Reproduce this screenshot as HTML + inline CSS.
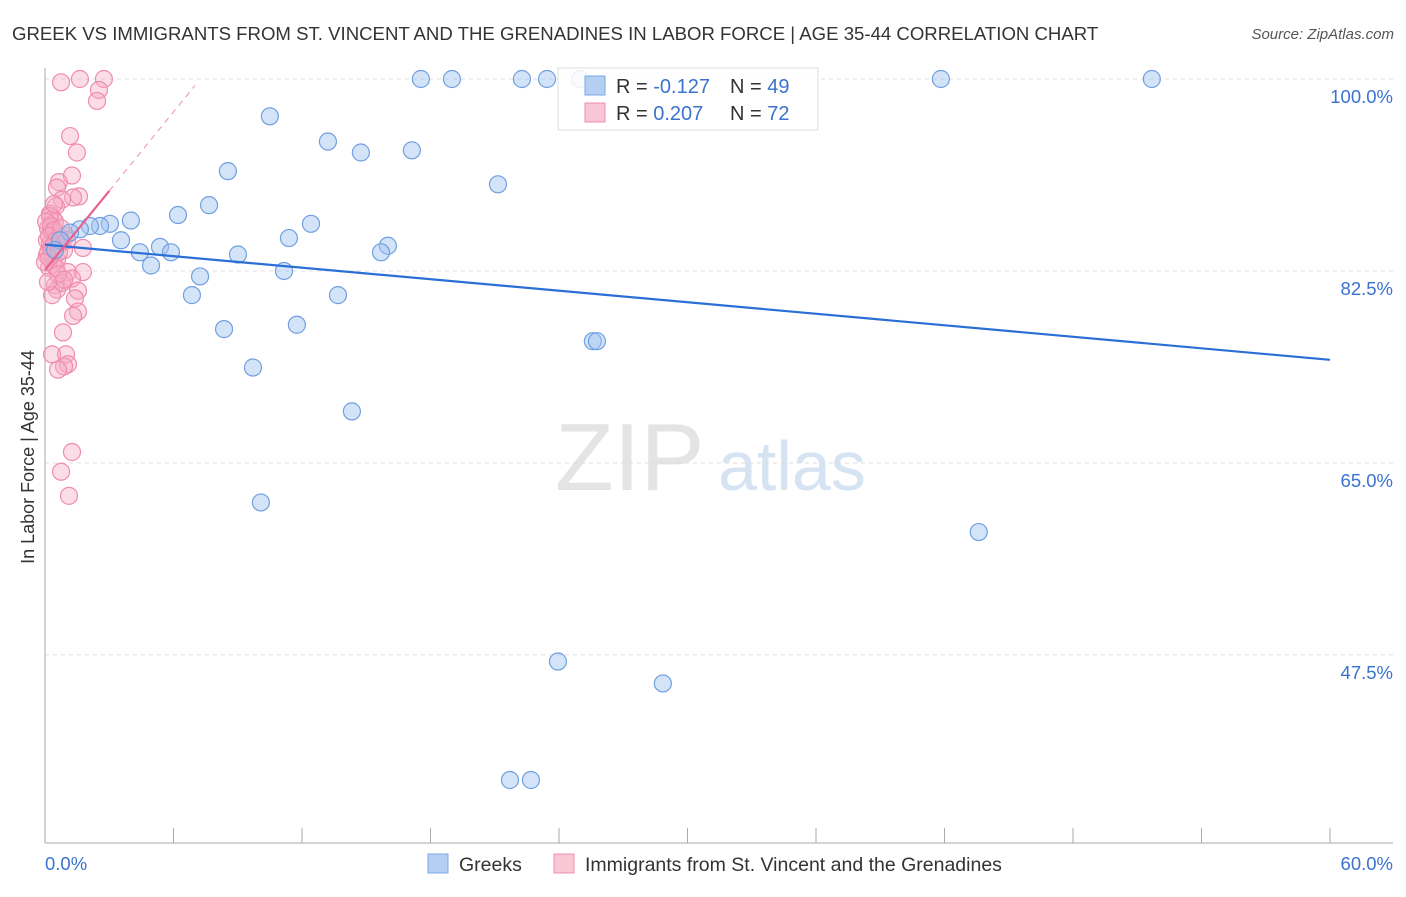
<!DOCTYPE html>
<html><head><meta charset="utf-8"><style>
body{margin:0;background:#fff;font-family:"Liberation Sans",sans-serif;}
svg text{font-family:"Liberation Sans",sans-serif;}
</style></head><body>
<svg id="c" width="1406" height="892">
<text x="12" y="40" font-size="18.6" fill="#333">GREEK VS IMMIGRANTS FROM ST. VINCENT AND THE GRENADINES IN LABOR FORCE | AGE 35-44 CORRELATION CHART</text>
<text x="1394" y="39" font-size="15" fill="#555" text-anchor="end" font-style="italic">Source: ZipAtlas.com</text>
<text x="555" y="490" font-size="96" fill="#e4e4e4" font-family="Liberation Serif">ZIP</text>
<text x="718" y="490" font-size="70" fill="#d6e3f3">atlas</text>
<text transform="translate(34,457) rotate(-90)" font-size="18" fill="#333" text-anchor="middle">In Labor Force | Age 35-44</text>
<g id="grid"></g><g id="axes"></g><g id="pts"></g><g id="trend"></g>
<g>
<rect x="558" y="68" width="260" height="62" fill="rgba(255,255,255,0.85)" stroke="#ddd"/>
<rect x="585" y="76" width="20" height="19" fill="#b5cff3" stroke="#7aaae6"/>
<rect x="585" y="103" width="20" height="19" fill="#f9c6d6" stroke="#f08cad"/>
<text x="616" y="93" font-size="20" fill="#333">R = <tspan fill="#3a73cf">-0.127</tspan></text>
<text x="730" y="93" font-size="20" fill="#333">N = <tspan fill="#3a73cf">49</tspan></text>
<text x="616" y="120" font-size="20" fill="#333">R = <tspan fill="#3a73cf"> 0.207</tspan></text>
<text x="730" y="120" font-size="20" fill="#333">N = <tspan fill="#3a73cf">72</tspan></text>
</g>
<g>
<rect x="428" y="854" width="20" height="19" fill="#b5cff3" stroke="#7aaae6"/>
<text x="459" y="871" font-size="19.5" fill="#333">Greeks</text>
<rect x="554" y="854" width="20" height="19" fill="#f9c6d6" stroke="#f08cad"/>
<text x="585" y="871" font-size="19.5" fill="#333">Immigrants from St. Vincent and the Grenadines</text>
</g>
</svg>
<script>
const yTicks=[100,82.5,65,47.5];
const yTickLabels=["100.0%","82.5%","65.0%","47.5%"];
const xEndLabels=["0.0%","60.0%"];
const blueX=[17.55,19.0,22.27,23.44,24.98,41.83,51.68,10.5,13.21,14.75,17.13,8.54,21.15,7.66,6.21,4.01,3.03,2.57,2.1,1.63,1.17,3.55,5.37,4.43,5.88,9.01,11.39,12.42,16.01,15.69,4.95,7.24,11.16,6.86,13.68,11.76,8.36,25.58,25.77,9.71,14.33,10.08,43.6,23.95,28.85,21.71,22.69,0.7,0.47];
const blueY=[100,100,100,100,100,100,100,96.6,94.3,93.3,93.5,91.6,90.4,88.5,87.6,87.1,86.8,86.6,86.6,86.3,86.0,85.3,84.7,84.2,84.2,84.0,85.5,86.8,84.8,84.2,83.0,82.0,82.5,80.3,80.3,77.6,77.2,76.1,76.1,73.7,69.7,61.4,58.7,46.9,44.9,36.1,36.1,85.3,84.4];
const pinkX=[0.75,1.63,2.75,2.52,2.43,1.17,1.49,0.65,1.26,0.56,1.59,1.31,0.79,0.51,0.23,0.37,0.47,0.14,0.33,0.61,0.09,0.23,0.47,0.70,0.14,0.33,0.56,0.79,0.98,0.89,0.37,0.19,0.51,1.07,1.77,1.77,1.26,0.79,0.47,0.56,0.33,1.54,1.40,1.54,1.31,0.84,0.98,0.33,1.07,0.89,0.61,1.26,0.75,1.12,0.23,0.05,0.28,0.42,0.19,0.51,0.28,0.09,0.37,0.65,0.75,0.19,0.0,0.61,0.89,0.14,1.03,0.42];
const pinkY=[99.7,100,100,99.0,98.0,94.8,93.3,90.6,91.2,90.1,89.3,89.2,89.0,88.4,87.7,87.3,87.0,86.4,86.1,85.7,85.3,85.0,84.6,85.0,84.2,83.9,83.5,85.3,85.7,84.4,83.1,82.8,82.8,82.4,84.6,82.4,81.8,81.4,81.2,80.8,80.3,80.7,80.0,78.8,78.4,76.9,74.9,74.9,74.0,73.8,73.5,66.0,64.2,62.0,87.5,87.0,86.6,86.2,85.7,85.3,84.6,83.9,84.8,84.2,86.4,83.7,83.3,82.2,81.7,81.5,85.3,88.6];
const blueTrend=[84.9,74.4];
const pinkTrend=[82.6,2.4];
const NS="http://www.w3.org/2000/svg";
const X0=45,X1=1330,Y100=79,PXY=10.97;
const sx=v=>X0+(X1-X0)*v/60, sy=v=>Y100+(100-v)*PXY;
function mk(t,a,p){const e=document.createElementNS(NS,t);for(const k in a)e.setAttribute(k,a[k]);p.appendChild(e);return e;}
const grid=document.getElementById('grid'),axes=document.getElementById('axes'),pts=document.getElementById('pts'),tr=document.getElementById('trend');
yTicks.forEach((v,i)=>{
 const l=mk('line',{x1:X0,x2:1393,y1:sy(v),y2:sy(v),stroke:'#ddd','stroke-dasharray':'4,4'},grid);
 
 
 const t=mk('text',{x:1393,y:sy(v)+24,'font-size':18.5,fill:'#3a73cf','text-anchor':'end'},grid);
 t.textContent=yTickLabels[i];
 
 
});
const ax=mk('line',{x1:X0,x2:1393,y1:843,y2:843,stroke:'#aaa'},axes);


const ay=mk('line',{x1:X0,x2:X0,y1:68,y2:843,stroke:'#aaa'},axes);


for(let k=0;k<=10;k++){const t=mk('line',{x1:sx(k*6),x2:sx(k*6),y1:828,y2:843,stroke:'#aaa'},axes);
 
 }
const xl0=mk('text',{x:45,y:870,'font-size':18.5,fill:'#3a73cf'},axes);xl0.textContent=xEndLabels[0];


const xl1=mk('text',{x:1393,y:870,'font-size':18.5,fill:'#3a73cf','text-anchor':'end'},axes);xl1.textContent=xEndLabels[1];


pinkX.forEach((v,i)=>{const c=mk('circle',{cx:sx(v),cy:sy(pinkY[i]),r:8.5,fill:'rgba(246,170,196,0.4)',stroke:'#f08cad','stroke-width':1.2},pts);
 
 });
blueX.forEach((v,i)=>{const c=mk('circle',{cx:sx(v),cy:sy(blueY[i]),r:8.5,fill:'rgba(160,195,240,0.45)',stroke:'#6f9fe0','stroke-width':1.2},pts);
 
 });
const bl=mk('line',{x1:sx(0),y1:sy(blueTrend[0]),x2:sx(60),y2:sy(blueTrend[1]),stroke:'#2a6fd6','stroke-width':2.2},tr);


const pd=mk('line',{x1:sx(3),y1:sy(pinkTrend[0]+3*pinkTrend[1]),x2:sx(7),y2:sy(pinkTrend[0]+7*pinkTrend[1]),stroke:'#f08cad','stroke-width':1,'stroke-dasharray':'6,5'},tr);


const pl=mk('line',{x1:sx(0),y1:sy(pinkTrend[0]),x2:sx(3),y2:sy(pinkTrend[0]+3*pinkTrend[1]),stroke:'#e8608f','stroke-width':2.2},tr);


</script>
</body></html>
